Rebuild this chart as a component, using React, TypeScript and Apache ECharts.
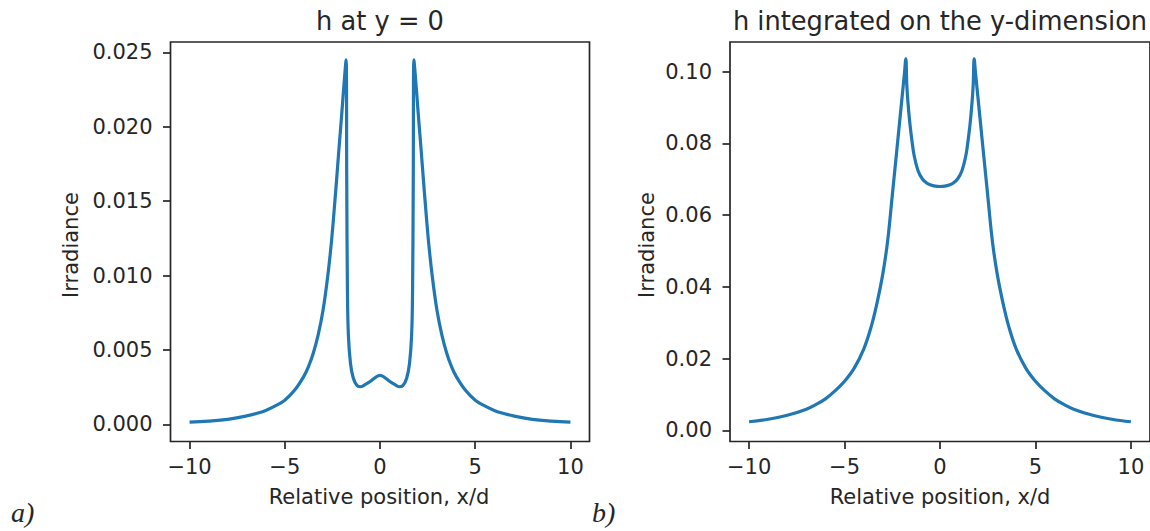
import React, { useEffect, useRef } from "react";
import * as echarts from "echarts";

// Panel a) : h at y = 0
const positionsA = [
  -10, -9, -8, -7, -6.5, -6, -5.5, -5, -4.5, -4, -3.75, -3.5, -3.25, -3, -2.75, -2.54, -2.3, -2.15, -2,
  -1.9, -1.78, -1.745, -1.71, -1.66, -1.55, -1.4, -1.2, -1, -0.75, -0.5, -0.25, 0, 0.25, 0.5, 0.75, 1,
  1.2, 1.4, 1.55, 1.66, 1.71, 1.745, 1.78, 1.9, 2, 2.15, 2.3, 2.54, 2.75, 3, 3.25, 3.5, 3.75, 4, 4.5, 5,
  5.5, 6, 6.5, 7, 8, 9, 10,
];
const irradianceA = [
  0.00015, 0.00022, 0.00034, 0.00057, 0.00073, 0.00094, 0.00124, 0.00163, 0.00227, 0.00323, 0.0039,
  0.0048, 0.006, 0.0076, 0.0099, 0.0124, 0.0161, 0.0186, 0.021, 0.0227, 0.0245, 0.016, 0.009, 0.006,
  0.0041, 0.0031, 0.0026, 0.00253, 0.0027, 0.0029, 0.00315, 0.0033, 0.00315, 0.0029, 0.0027, 0.00253,
  0.0026, 0.0031, 0.0041, 0.006, 0.009, 0.016, 0.0245, 0.0227, 0.021, 0.0186, 0.0161, 0.0124, 0.0099,
  0.0076, 0.006, 0.0048, 0.0039, 0.00323, 0.00227, 0.00163, 0.00124, 0.00094, 0.00073, 0.00057, 0.00034,
  0.00022, 0.00015,
];

// Panel b) : h integrated on the y-dimension
const positionsB = [
  -10, -9, -8, -7, -6.5, -6, -5.5, -5, -4.5, -4, -3.6, -3.3, -3, -2.75, -2.5, -2.25, -2, -1.86, -1.79,
  -1.74, -1.68, -1.58, -1.45, -1.36, -1.15, -0.92, -0.7, -0.48, -0.25, 0, 0.25, 0.48, 0.7, 0.92, 1.15,
  1.36, 1.45, 1.58, 1.68, 1.74, 1.79, 1.86, 2, 2.25, 2.5, 2.75, 3, 3.3, 3.6, 4, 4.5, 5, 5.5, 6, 6.5, 7,
  8, 9, 10,
];
const irradianceB = [
  0.0024, 0.0031, 0.0042, 0.0059, 0.0072, 0.0088, 0.011, 0.0137, 0.0173, 0.0226, 0.029, 0.0355, 0.0435,
  0.0525, 0.0655, 0.0788, 0.0922, 0.0997, 0.1036, 0.0965, 0.0915, 0.0857, 0.08, 0.0768, 0.0724, 0.0701,
  0.069, 0.0684, 0.0681, 0.068, 0.0681, 0.0684, 0.069, 0.0701, 0.0724, 0.0768, 0.08, 0.0857, 0.0915,
  0.0965, 0.1036, 0.0997, 0.0922, 0.0788, 0.0655, 0.0525, 0.0435, 0.0355, 0.029, 0.0226, 0.0173, 0.0137,
  0.011, 0.0088, 0.0072, 0.0059, 0.0042, 0.0031, 0.0024,
];

// Tick labels and axis limits
const xTicks = [-10, -5, 0, 5, 10];
const yTicksA = [0, 0.005, 0.01, 0.015, 0.02, 0.025];
const yTicksB = [0, 0.02, 0.04, 0.06, 0.08, 0.1];
const xLimits = [-11, 11];
const yLimitsA = [-0.00115, 0.0257];
const yLimitsB = [-0.0031, 0.1083];

const titles = ["h at y = 0", "h integrated on the y-dimension"];
const xName = "Relative position, x/d";
const yName = "Irradiance";
const panelLabels = ["a)", "b)"];

const FONT = "DejaVu Sans";
const TXT = "#262626";
const SPINE = "#262626";
const LINE = "#1f77b4";

export default function App() {
  const ref = useRef<HTMLDivElement>(null);

  useEffect(() => {
    if (!ref.current) return;
    const chart = echarts.init(ref.current, undefined, { renderer: "svg" });

    const grids = [
      { left: 170.5, top: 42, width: 419, height: 399.5 },
      { left: 730, top: 42, width: 421, height: 399.5 },
    ];

    const fmtX = (v: number) => (v < 0 ? "\u2212" + Math.abs(v) : String(v));

    const makeX = (gi: number) => ({
      type: "value",
      gridIndex: gi,
      min: xLimits[0],
      max: xLimits[1],
      axisLine: { show: false, onZero: false },
      splitLine: { show: false },
      axisTick: {
        show: true,
        customValues: xTicks,
        length: 7.5,
        lineStyle: { color: SPINE, width: 1.7 },
      },
      axisLabel: {
        show: true,
        customValues: xTicks,
        formatter: fmtX,
        margin: 15,
        fontFamily: FONT,
        fontSize: 21,
        color: TXT,
      },
    });

    const makeY = (gi: number, lim: number[], ticks: number[], dec: number) => ({
      type: "value",
      gridIndex: gi,
      min: lim[0],
      max: lim[1],
      axisLine: { show: false, onZero: false },
      splitLine: { show: false },
      axisTick: {
        show: true,
        customValues: ticks,
        length: 7.5,
        lineStyle: { color: SPINE, width: 1.7 },
      },
      axisLabel: {
        show: true,
        customValues: ticks,
        formatter: (v: number) => v.toFixed(dec),
        margin: 18,
        fontFamily: FONT,
        fontSize: 21,
        color: TXT,
      },
    });

    const text = (
      str: string,
      x: number,
      y: number,
      size: number,
      opts: any = {}
    ) => ({
      type: "text",
      x,
      y,
      rotation: opts.rotation || 0,
      style: {
        text: str,
        fill: TXT,
        font: `${opts.italic ? "italic " : ""}${size}px ${opts.family || FONT}`,
        textAlign: opts.align || "center",
        textVerticalAlign: "middle",
        verticalAlign: "middle",
      },
    });

    chart.setOption({
      animation: false,
      backgroundColor: "#ffffff",
      grid: grids.map((g) => ({
        ...g,
        show: true,
        borderColor: SPINE,
        borderWidth: 1.7,
        backgroundColor: "transparent",
        containLabel: false,
      })),
      xAxis: [makeX(0), makeX(1)],
      yAxis: [makeY(0, yLimitsA, yTicksA, 3), makeY(1, yLimitsB, yTicksB, 2)],
      series: [
        {
          type: "line",
          xAxisIndex: 0,
          yAxisIndex: 0,
          data: positionsA.map((x, i) => [x, irradianceA[i]]),
          showSymbol: false,
          smooth: 0.4,
          lineStyle: { color: LINE, width: 3.2, join: "round" },
        },
        {
          type: "line",
          xAxisIndex: 1,
          yAxisIndex: 1,
          data: positionsB.map((x, i) => [x, irradianceB[i]]),
          showSymbol: false,
          smooth: 0.4,
          lineStyle: { color: LINE, width: 3.2, join: "round" },
        },
      ],
      graphic: [
        text(titles[0], 380, 21, 25.7),
        text(titles[1], 940, 21, 25.7),
        text(yName, 71, 245, 21, { rotation: Math.PI / 2 }),
        text(yName, 647, 245, 21, { rotation: Math.PI / 2 }),
        text(xName, 379, 497, 21),
        text(xName, 940, 497, 21),
        text(panelLabels[0], 11, 512.5, 28, { italic: true, family: "Liberation Serif", align: "left" }),
        text(panelLabels[1], 592, 512.5, 28, { italic: true, family: "Liberation Serif", align: "left" }),
      ],
    });

    return () => chart.dispose();
  }, []);

  return (
    <div
      ref={ref}
      style={{ position: "fixed", left: 0, top: 0, width: 1150, height: 531, background: "#fff" }}
    />
  );
}
